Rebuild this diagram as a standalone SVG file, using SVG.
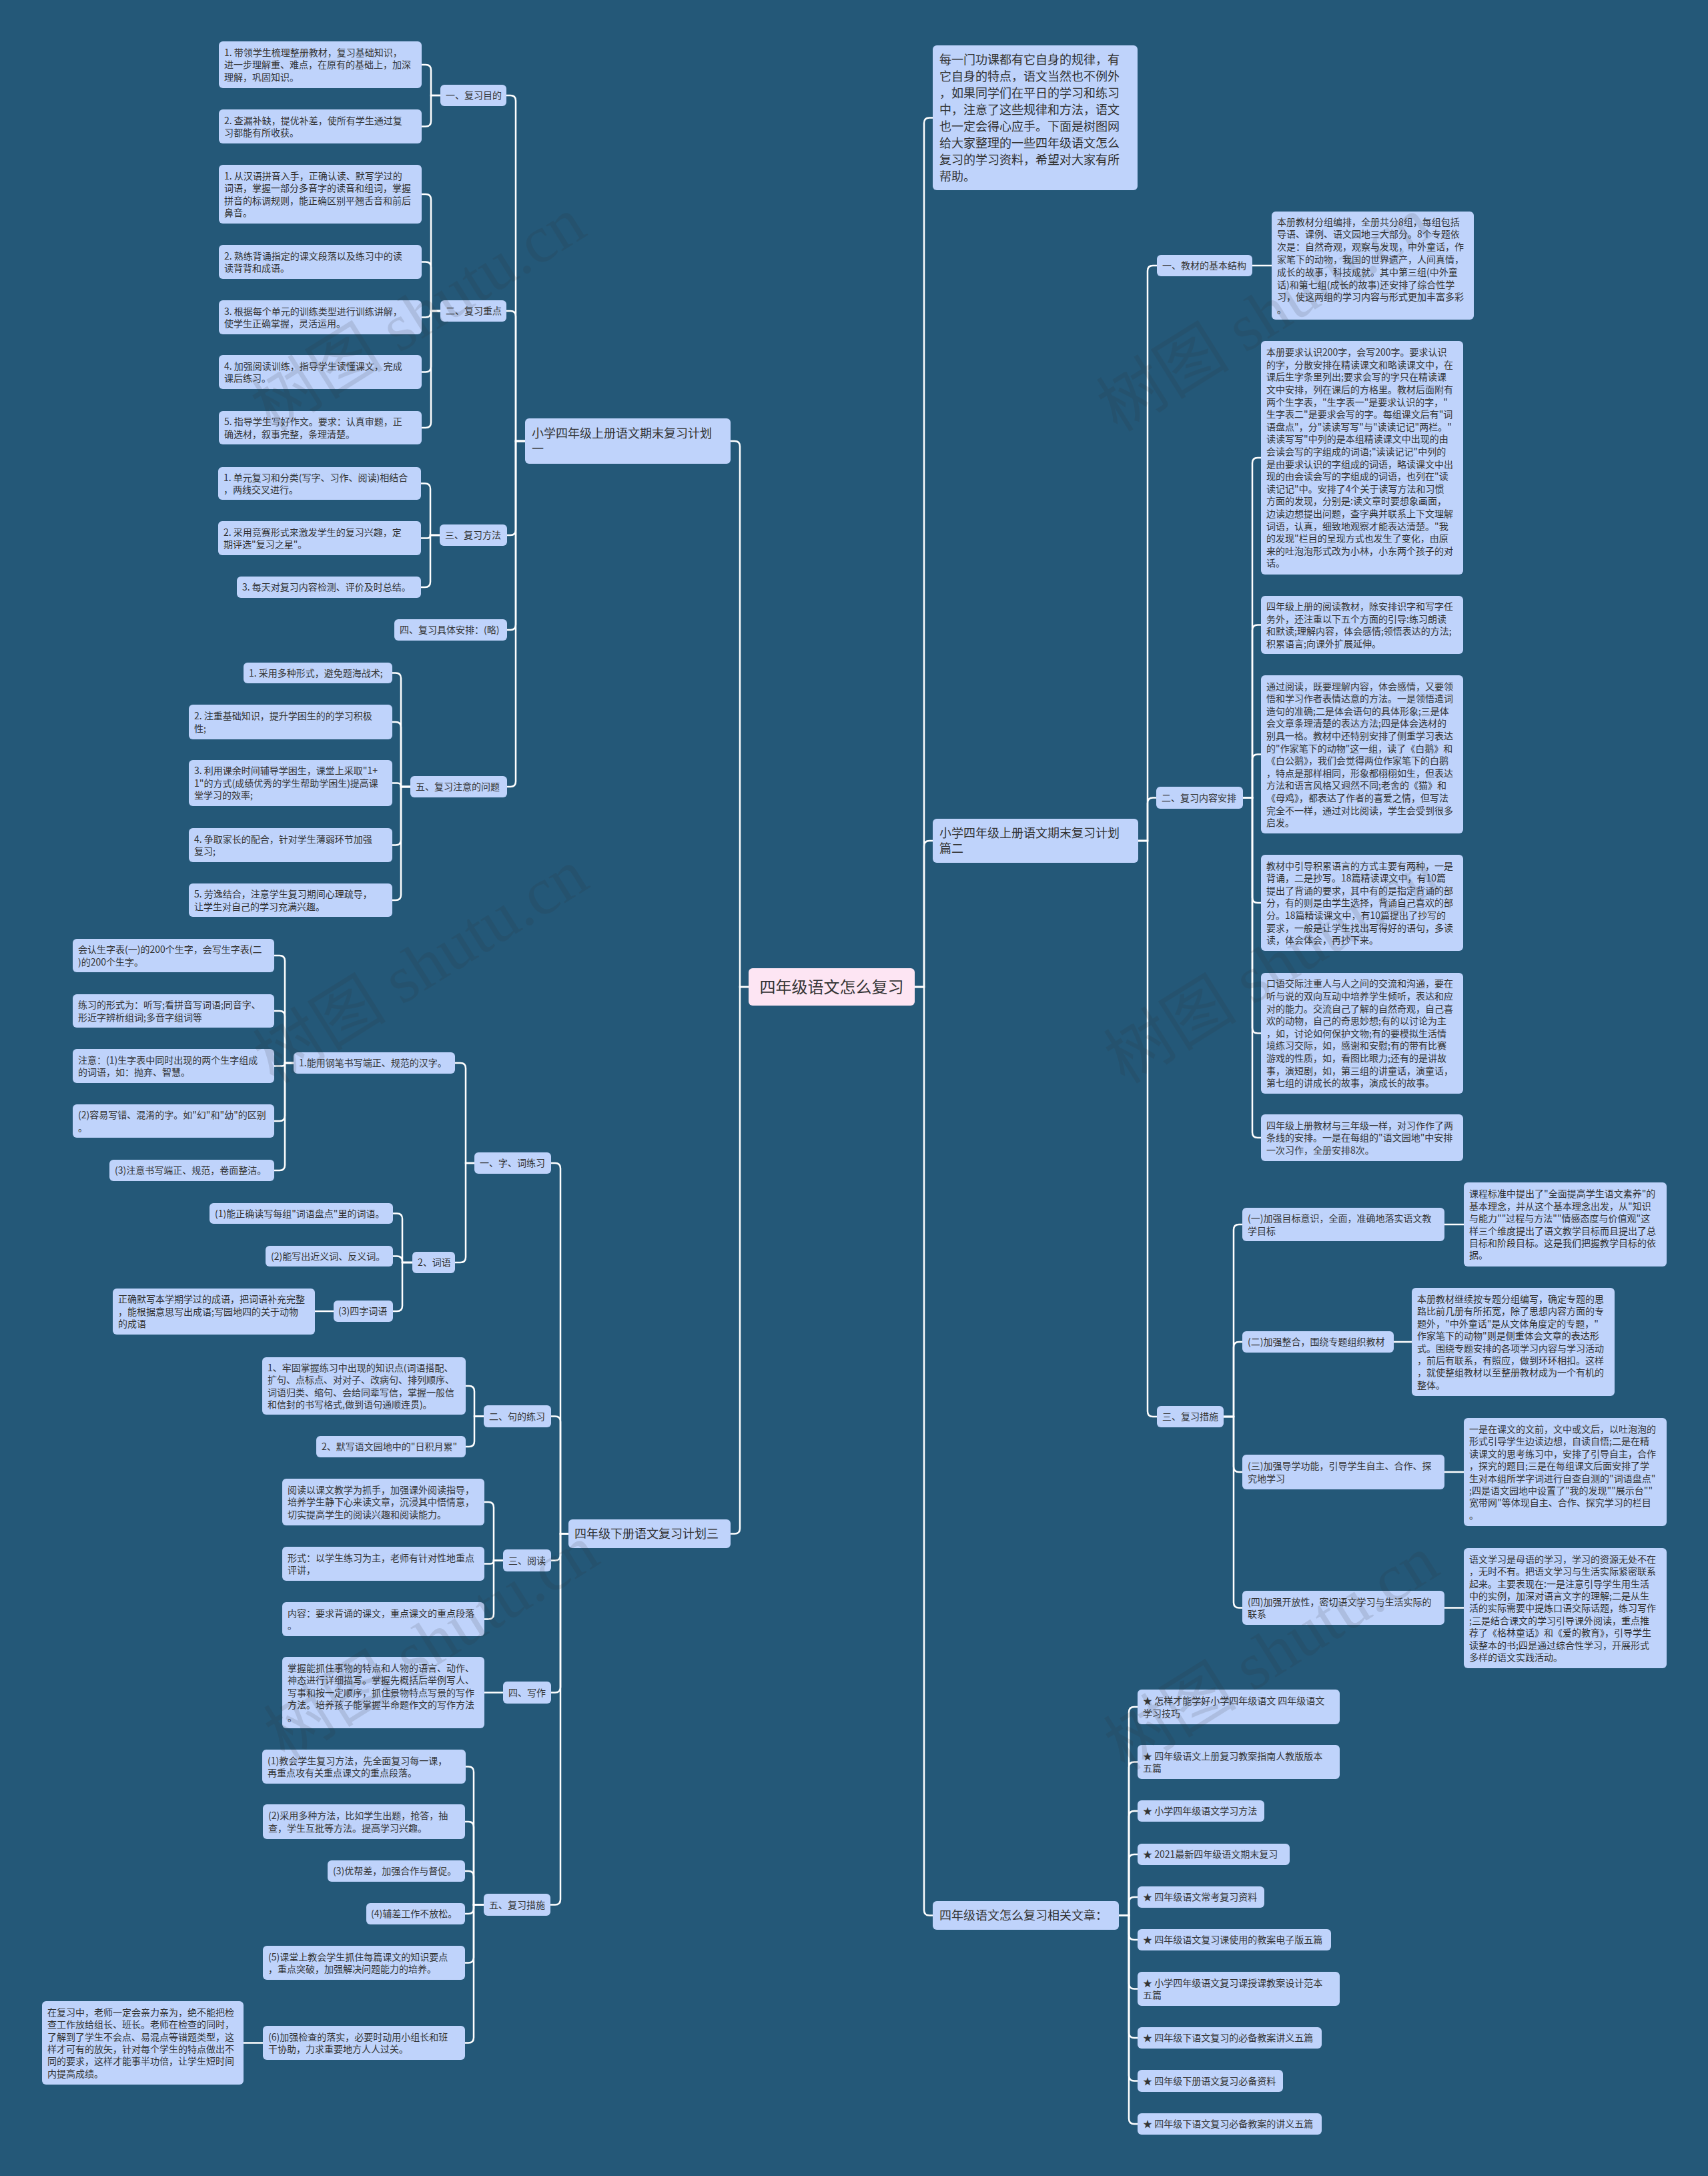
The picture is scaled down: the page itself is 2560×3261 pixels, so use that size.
<svg xmlns="http://www.w3.org/2000/svg" width="2560" height="3261" viewBox="0 0 2560 3261">
<style>
.bg{fill:#245878}
.b{fill:#bfd3fb;rx:6px;ry:6px}
.rt{fill:#fde5f3;rx:6px;ry:6px}
text{font-family:"Noto Sans CJK SC","Noto Sans",sans-serif;fill:#333333}
.t{font-size:14px}
.m{font-size:18px}
.r{font-size:24px;text-anchor:middle}
.c path{fill:none;stroke:#ffffff;stroke-width:2.5;stroke-linecap:round}
.wm{font-family:"Liberation Serif","Noto Sans CJK SC",serif;font-size:100px;fill:#303030;opacity:0.13;text-anchor:middle}
</style>
<rect class="bg" x="0" y="0" width="2560" height="3261"/>

<g class="c" id="connectors">
<path d="M1122 1479 H1109 V669 Q1109 661 1101 661 H1095"/>
<path d="M1122 1479 H1109 V2290.5 Q1109 2298.5 1101 2298.5 H1095"/>
<path d="M1371 1479 H1385 V184.5 Q1385 176.5 1393 176.5 H1398"/>
<path d="M1371 1479 H1385 V1268 Q1385 1260 1393 1260 H1398"/>
<path d="M1371 1479 H1385 V2862.5 Q1385 2870.5 1393 2870.5 H1398"/>
<path d="M787 661 H773 V151 Q773 143 765 143 H759"/>
<path d="M787 661 H773 V474 Q773 466 765 466 H759"/>
<path d="M787 661 H773 V794 Q773 802 765 802 H760"/>
<path d="M787 661 H773 V936 Q773 944 765 944 H760"/>
<path d="M787 661 H773 V1171 Q773 1179 765 1179 H760"/>
<path d="M660 143 H646 V105 Q646 97 638 97 H632"/>
<path d="M660 143 H646 V181.5 Q646 189.5 638 189.5 H632"/>
<path d="M660 466 H646 V299 Q646 291 638 291 H632"/>
<path d="M660 466 H646 V400.5 Q646 392.5 638 392.5 H632"/>
<path d="M660 466 H646 V467.5 Q646 475.5 638 475.5 H632"/>
<path d="M660 466 H646 V549.5 Q646 557.5 638 557.5 H632"/>
<path d="M660 466 H646 V633 Q646 641 638 641 H632"/>
<path d="M659 802 H645 V732.5 Q645 724.5 637 724.5 H631"/>
<path d="M659 802 H645 V802 Q645 806.5 640.5 806.5 H631"/>
<path d="M659 802 H645 V872 Q645 880 637 880 H631"/>
<path d="M615 1179 H601 V1016.5 Q601 1008.5 593 1008.5 H588"/>
<path d="M615 1179 H601 V1090 Q601 1082 593 1082 H588"/>
<path d="M615 1179 H601 V1179 Q601 1173.5 595.5 1173.5 H588"/>
<path d="M615 1179 H601 V1258.5 Q601 1266.5 593 1266.5 H588"/>
<path d="M615 1179 H601 V1341 Q601 1349 593 1349 H588"/>
<path d="M852 2298.5 H840 V1751 Q840 1743 832 1743 H826"/>
<path d="M852 2298.5 H840 V2130.5 Q840 2122.5 832 2122.5 H826"/>
<path d="M852 2298.5 H840 V2330.5 Q840 2338.5 832 2338.5 H826"/>
<path d="M852 2298.5 H840 V2528.5 Q840 2536.5 832 2536.5 H826"/>
<path d="M852 2298.5 H840 V2846.5 Q840 2854.5 832 2854.5 H825"/>
<path d="M711 1743 H698 V1601 Q698 1593 690 1593 H682"/>
<path d="M711 1743 H698 V1884 Q698 1892 690 1892 H682"/>
<path d="M440 1593 H427 V1440 Q427 1432 419 1432 H411"/>
<path d="M440 1593 H427 V1523 Q427 1515 419 1515 H411"/>
<path d="M440 1593 H427 V1593 Q427 1597.5 422.5 1597.5 H411"/>
<path d="M440 1593 H427 V1672 Q427 1680 419 1680 H411"/>
<path d="M440 1593 H427 V1746 Q427 1754 419 1754 H411"/>
<path d="M618 1892 H603 V1826.5 Q603 1818.5 595 1818.5 H589"/>
<path d="M618 1892 H603 V1890.5 Q603 1882.5 595 1882.5 H589"/>
<path d="M618 1892 H603 V1957 Q603 1965 595 1965 H589"/>
<path d="M500 1965 H472"/>
<path d="M725 2122.5 H711 V2085 Q711 2077 703 2077 H698"/>
<path d="M725 2122.5 H711 V2160 Q711 2168 703 2168 H698"/>
<path d="M754 2338.5 H740 V2259 Q740 2251 732 2251 H726"/>
<path d="M754 2338.5 H740 V2338.5 Q740 2343.5 735 2343.5 H726"/>
<path d="M754 2338.5 H740 V2418.5 Q740 2426.5 732 2426.5 H726"/>
<path d="M754 2536.5 H726"/>
<path d="M725 2854.5 H710 V2655.5 Q710 2647.5 702 2647.5 H698"/>
<path d="M725 2854.5 H710 V2738 Q710 2730 702 2730 H697"/>
<path d="M725 2854.5 H710 V2812 Q710 2804 702 2804 H697"/>
<path d="M725 2854.5 H710 V2860 Q710 2868 702 2868 H697"/>
<path d="M725 2854.5 H710 V2933.5 Q710 2941.5 702 2941.5 H697"/>
<path d="M725 2854.5 H710 V3053.5 Q710 3061.5 702 3061.5 H697"/>
<path d="M394 3061.5 H365"/>
<path d="M1706 1260 H1720 V406 Q1720 398 1728 398 H1734"/>
<path d="M1706 1260 H1720 V1203.5 Q1720 1195.5 1728 1195.5 H1733"/>
<path d="M1706 1260 H1720 V2115 Q1720 2123 1728 2123 H1734"/>
<path d="M1877 398 H1906"/>
<path d="M1863 1195.5 H1877 V694 Q1877 686 1885 686 H1890"/>
<path d="M1863 1195.5 H1877 V944.5 Q1877 936.5 1885 936.5 H1890"/>
<path d="M1863 1195.5 H1877 V1138.5 Q1877 1130.5 1885 1130.5 H1890"/>
<path d="M1863 1195.5 H1877 V1345 Q1877 1353 1885 1353 H1890"/>
<path d="M1863 1195.5 H1877 V1540.5 Q1877 1548.5 1885 1548.5 H1890"/>
<path d="M1863 1195.5 H1877 V1697 Q1877 1705 1885 1705 H1890"/>
<path d="M1834 2123 H1849 V1843 Q1849 1835 1857 1835 H1862"/>
<path d="M1834 2123 H1849 V2019 Q1849 2011 1857 2011 H1862"/>
<path d="M1834 2123 H1849 V2198 Q1849 2206 1857 2206 H1862"/>
<path d="M1834 2123 H1849 V2401.5 Q1849 2409.5 1857 2409.5 H1862"/>
<path d="M2165 1835 H2194"/>
<path d="M2089 2011 H2116"/>
<path d="M2165 2206 H2194"/>
<path d="M2165 2409.5 H2194"/>
<path d="M1677 2870.5 H1692 V2566 Q1692 2558 1700 2558 H1705"/>
<path d="M1677 2870.5 H1692 V2648.5 Q1692 2640.5 1700 2640.5 H1705"/>
<path d="M1677 2870.5 H1692 V2722 Q1692 2714 1700 2714 H1705"/>
<path d="M1677 2870.5 H1692 V2787 Q1692 2779 1700 2779 H1705"/>
<path d="M1677 2870.5 H1692 V2851 Q1692 2843 1700 2843 H1705"/>
<path d="M1677 2870.5 H1692 V2899 Q1692 2907 1700 2907 H1705"/>
<path d="M1677 2870.5 H1692 V2972.5 Q1692 2980.5 1700 2980.5 H1705"/>
<path d="M1677 2870.5 H1692 V3046 Q1692 3054 1700 3054 H1705"/>
<path d="M1677 2870.5 H1692 V3110.5 Q1692 3118.5 1700 3118.5 H1705"/>
<path d="M1677 2870.5 H1692 V3175 Q1692 3183 1700 3183 H1705"/>
</g>

<g id="root"><rect class="rt" x="1122" y="1451" width="249" height="56"/><text class="r" x="1246.5" y="1488">四年级语文怎么复习</text></g>

<g id="plan1"><rect class="b" x="787" y="627" width="308" height="68"/><text class="m"><tspan x="797" y="656">小学四年级上册语文期末复习计划</tspan><tspan x="797" y="679">一</tspan></text></g>
<g id="p1-goal"><rect class="b" x="660" y="127" width="99" height="32"/><text class="t" x="668" y="148.3">一、复习目的</text></g>
<g id="p1-goal-1"><rect class="b" x="328" y="62" width="304" height="70"/><text class="t"><tspan x="336" y="83.9">1. 带领学生梳理整册教材，复习基础知识，</tspan><tspan x="336" y="102.3">进一步理解重、难点，在原有的基础上，加深</tspan><tspan x="336" y="120.7">理解，巩固知识。</tspan></text></g>
<g id="p1-goal-2"><rect class="b" x="328" y="164" width="304" height="51"/><text class="t"><tspan x="336" y="185.6">2. 查漏补缺，提优补差，使所有学生通过复</tspan><tspan x="336" y="204">习都能有所收获。</tspan></text></g>
<g id="p1-key"><rect class="b" x="660" y="450" width="99" height="32"/><text class="t" x="668" y="471.3">二、复习重点</text></g>
<g id="p1-key-1"><rect class="b" x="328" y="247" width="304" height="88"/><text class="t"><tspan x="336" y="268.7">1. 从汉语拼音入手，正确认读、默写学过的</tspan><tspan x="336" y="287.1">词语，掌握一部分多音字的读音和组词，掌握</tspan><tspan x="336" y="305.5">拼音的标调规则，能正确区别平翘舌音和前后</tspan><tspan x="336" y="323.9">鼻音。</tspan></text></g>
<g id="p1-key-2"><rect class="b" x="328" y="367" width="304" height="51"/><text class="t"><tspan x="336" y="388.6">2. 熟练背诵指定的课文段落以及练习中的读</tspan><tspan x="336" y="407">读背背和成语。</tspan></text></g>
<g id="p1-key-3"><rect class="b" x="328" y="450" width="304" height="51"/><text class="t"><tspan x="336" y="471.6">3. 根据每个单元的训练类型进行训练讲解，</tspan><tspan x="336" y="490">使学生正确掌握，灵活运用。</tspan></text></g>
<g id="p1-key-4"><rect class="b" x="328" y="532" width="304" height="51"/><text class="t"><tspan x="336" y="553.6">4. 加强阅读训练，指导学生读懂课文，完成</tspan><tspan x="336" y="572">课后练习。</tspan></text></g>
<g id="p1-key-5"><rect class="b" x="328" y="616" width="304" height="50"/><text class="t"><tspan x="336" y="637.1">5. 指导学生写好作文。要求：认真审题，正</tspan><tspan x="336" y="655.5">确选材，叙事完整，条理清楚。</tspan></text></g>
<g id="p1-method"><rect class="b" x="659" y="786" width="101" height="32"/><text class="t" x="667" y="807.3">三、复习方法</text></g>
<g id="p1-method-1"><rect class="b" x="327" y="700" width="304" height="49"/><text class="t"><tspan x="335" y="720.6">1. 单元复习和分类(写字、习作、阅读)相结合</tspan><tspan x="335" y="739">，两线交叉进行。</tspan></text></g>
<g id="p1-method-2"><rect class="b" x="327" y="781" width="304" height="51"/><text class="t"><tspan x="335" y="802.6">2. 采用竞赛形式来激发学生的复习兴趣，定</tspan><tspan x="335" y="821">期评选"复习之星"。</tspan></text></g>
<g id="p1-method-3"><rect class="b" x="355" y="864" width="276" height="32"/><text class="t" x="363" y="885.3">3. 每天对复习内容检测、评价及时总结。</text></g>
<g id="p1-plan"><rect class="b" x="591" y="928" width="169" height="32"/><text class="t" x="599" y="949.3">四、复习具体安排：(略)</text></g>
<g id="p1-note"><rect class="b" x="615" y="1163" width="145" height="32"/><text class="t" x="623" y="1184.3">五、复习注意的问题</text></g>
<g id="p1-note-1"><rect class="b" x="365" y="993" width="223" height="31"/><text class="t" x="373" y="1013.8">1. 采用多种形式，避免题海战术;</text></g>
<g id="p1-note-2"><rect class="b" x="283" y="1056" width="305" height="52"/><text class="t"><tspan x="291" y="1078.1">2. 注重基础知识，提升学困生的的学习积极</tspan><tspan x="291" y="1096.5">性;</tspan></text></g>
<g id="p1-note-3"><rect class="b" x="283" y="1139" width="305" height="69"/><text class="t"><tspan x="291" y="1160.4">3. 利用课余时间辅导学困生，课堂上采取"1+</tspan><tspan x="291" y="1178.8">1"的方式(成绩优秀的学生帮助学困生)提高课</tspan><tspan x="291" y="1197.2">堂学习的效率;</tspan></text></g>
<g id="p1-note-4"><rect class="b" x="283" y="1241" width="305" height="51"/><text class="t"><tspan x="291" y="1262.6">4. 争取家长的配合，针对学生薄弱环节加强</tspan><tspan x="291" y="1281">复习;</tspan></text></g>
<g id="p1-note-5"><rect class="b" x="283" y="1324" width="305" height="50"/><text class="t"><tspan x="291" y="1345.1">5. 劳逸结合，注意学生复习期间心理疏导，</tspan><tspan x="291" y="1363.5">让学生对自己的学习充满兴趣。</tspan></text></g>

<g id="plan3"><rect class="b" x="852" y="2277" width="243" height="43"/><text class="m" x="861" y="2305">四年级下册语文复习计划三</text></g>
<g id="p3-word"><rect class="b" x="711" y="1727" width="115" height="32"/><text class="t" x="719" y="1748.3">一、字、词练习</text></g>
<g id="p3-char"><rect class="b" x="440" y="1577" width="242" height="32"/><text class="t" x="448" y="1598.3">1.能用钢笔书写端正、规范的汉字。</text></g>
<g id="p3-char-1"><rect class="b" x="109" y="1407" width="302" height="50"/><text class="t"><tspan x="117" y="1428.1">会认生字表(一)的200个生字，会写生字表(二</tspan><tspan x="117" y="1446.5">)的200个生字。</tspan></text></g>
<g id="p3-char-2"><rect class="b" x="109" y="1490" width="302" height="50"/><text class="t"><tspan x="117" y="1511.1">练习的形式为：听写;看拼音写词语;同音字、</tspan><tspan x="117" y="1529.5">形近字辨析组词;多音字组词等</tspan></text></g>
<g id="p3-char-3"><rect class="b" x="109" y="1572" width="302" height="51"/><text class="t"><tspan x="117" y="1593.6">注意：(1)生字表中同时出现的两个生字组成</tspan><tspan x="117" y="1612">的词语，如：抛弃、智慧。</tspan></text></g>
<g id="p3-char-4"><rect class="b" x="109" y="1655" width="302" height="50"/><text class="t"><tspan x="117" y="1676.1">(2)容易写错、混淆的字。如"幻"和"幼"的区别</tspan><tspan x="117" y="1694.5">。</tspan></text></g>
<g id="p3-char-5"><rect class="b" x="164" y="1738" width="247" height="32"/><text class="t" x="172" y="1759.3">(3)注意书写端正、规范，卷面整洁。</text></g>
<g id="p3-ci"><rect class="b" x="618" y="1876" width="64" height="32"/><text class="t" x="626" y="1897.3">2、词语</text></g>
<g id="p3-ci-1"><rect class="b" x="314" y="1803" width="275" height="31"/><text class="t" x="322" y="1823.8">(1)能正确读写每组"词语盘点"里的词语。</text></g>
<g id="p3-ci-2"><rect class="b" x="398" y="1867" width="191" height="31"/><text class="t" x="406" y="1887.8">(2)能写出近义词、反义词。</text></g>
<g id="p3-ci-3"><rect class="b" x="500" y="1949" width="89" height="32"/><text class="t" x="507" y="1970.3">(3)四字词语</text></g>
<g id="p3-ci-3a"><rect class="b" x="169" y="1931" width="303" height="69"/><text class="t"><tspan x="177" y="1952.4">正确默写本学期学过的成语，把词语补充完整</tspan><tspan x="177" y="1970.8">，能根据意思写出成语;写园地四的关于动物</tspan><tspan x="177" y="1989.2">的成语</tspan></text></g>
<g id="p3-sent"><rect class="b" x="725" y="2106" width="101" height="33"/><text class="t" x="733" y="2127.8">二、句的练习</text></g>
<g id="p3-sent-1"><rect class="b" x="393" y="2034" width="305" height="86"/><text class="t"><tspan x="401" y="2054.7">1、牢固掌握练习中出现的知识点(词语搭配、</tspan><tspan x="401" y="2073.1">扩句、点标点、对对子、改病句、排列顺序、</tspan><tspan x="401" y="2091.5">词语归类、缩句、会给同辈写信，掌握一般信</tspan><tspan x="401" y="2109.9">和信封的书写格式,做到语句通顺连贯)。</tspan></text></g>
<g id="p3-sent-2"><rect class="b" x="474" y="2152" width="224" height="32"/><text class="t" x="482" y="2173.3">2、默写语文园地中的"日积月累"</text></g>
<g id="p3-read"><rect class="b" x="754" y="2322" width="72" height="33"/><text class="t" x="762" y="2343.8">三、阅读</text></g>
<g id="p3-read-1"><rect class="b" x="423" y="2216" width="303" height="70"/><text class="t"><tspan x="431" y="2237.9">阅读以课文教学为抓手，加强课外阅读指导，</tspan><tspan x="431" y="2256.3">培养学生静下心来读文章，沉浸其中悟情意，</tspan><tspan x="431" y="2274.7">切实提高学生的阅读兴趣和阅读能力。</tspan></text></g>
<g id="p3-read-2"><rect class="b" x="423" y="2318" width="303" height="51"/><text class="t"><tspan x="431" y="2339.6">形式：以学生练习为主，老师有针对性地重点</tspan><tspan x="431" y="2358">评讲，</tspan></text></g>
<g id="p3-read-3"><rect class="b" x="423" y="2401" width="303" height="51"/><text class="t"><tspan x="431" y="2422.6">内容：要求背诵的课文，重点课文的重点段落</tspan><tspan x="431" y="2441">。</tspan></text></g>
<g id="p3-write"><rect class="b" x="754" y="2520" width="72" height="33"/><text class="t" x="762" y="2541.8">四、写作</text></g>
<g id="p3-write-1"><rect class="b" x="423" y="2483" width="303" height="107"/><text class="t"><tspan x="431" y="2505">掌握能抓住事物的特点和人物的语言、动作、</tspan><tspan x="431" y="2523.4">神态进行详细描写。掌握先概括后举例写人、</tspan><tspan x="431" y="2541.8">写事和按一定顺序，抓住景物特点写景的写作</tspan><tspan x="431" y="2560.2">方法。培养孩子能掌握半命题作文的写作方法</tspan><tspan x="431" y="2578.6">。</tspan></text></g>
<g id="p3-measure"><rect class="b" x="725" y="2838" width="100" height="33"/><text class="t" x="733" y="2859.8">五、复习措施</text></g>
<g id="p3-measure-1"><rect class="b" x="393" y="2622" width="305" height="51"/><text class="t"><tspan x="401" y="2643.6">(1)教会学生复习方法，先全面复习每一课，</tspan><tspan x="401" y="2662">再重点攻有关重点课文的重点段落。</tspan></text></g>
<g id="p3-measure-2"><rect class="b" x="394" y="2704" width="303" height="52"/><text class="t"><tspan x="402" y="2726.1">(2)采用多种方法，比如学生出题，抢答，抽</tspan><tspan x="402" y="2744.5">查，学生互批等方法。提高学习兴趣。</tspan></text></g>
<g id="p3-measure-3"><rect class="b" x="491" y="2788" width="206" height="32"/><text class="t" x="499" y="2809.3">(3)优帮差，加强合作与督促。</text></g>
<g id="p3-measure-4"><rect class="b" x="549" y="2852" width="148" height="32"/><text class="t" x="556" y="2873.3">(4)辅差工作不放松。</text></g>
<g id="p3-measure-5"><rect class="b" x="394" y="2916" width="303" height="51"/><text class="t"><tspan x="402" y="2937.6">(5)课堂上教会学生抓住每篇课文的知识要点</tspan><tspan x="402" y="2956">，重点突破，加强解决问题能力的培养。</tspan></text></g>
<g id="p3-measure-6"><rect class="b" x="394" y="3036" width="303" height="51"/><text class="t"><tspan x="402" y="3057.6">(6)加强检查的落实，必要时动用小组长和班</tspan><tspan x="402" y="3076">干协助，力求重要地方人人过关。</tspan></text></g>
<g id="p3-measure-6a"><rect class="b" x="63" y="2999" width="302" height="125"/><text class="t"><tspan x="71" y="3020.8">在复习中，老师一定会亲力亲为，绝不能把检</tspan><tspan x="71" y="3039.2">查工作放给组长、班长。老师在检查的同时，</tspan><tspan x="71" y="3057.6">了解到了学生不会点、易混点等错题类型，这</tspan><tspan x="71" y="3076">样才可有的放矢，针对每个学生的特点做出不</tspan><tspan x="71" y="3094.4">同的要求，这样才能事半功倍，让学生短时间</tspan><tspan x="71" y="3112.8">内提高成绩。</tspan></text></g>

<g id="intro"><rect class="b" x="1398" y="68" width="307" height="217"/><text class="m"><tspan x="1408" y="96">每一门功课都有它自身的规律，有</tspan><tspan x="1408" y="121">它自身的特点，语文当然也不例外</tspan><tspan x="1408" y="146">，如果同学们在平日的学习和练习</tspan><tspan x="1408" y="171">中，注意了这些规律和方法，语文</tspan><tspan x="1408" y="196">也一定会得心应手。下面是树图网</tspan><tspan x="1408" y="221">给大家整理的一些四年级语文怎么</tspan><tspan x="1408" y="246">复习的学习资料，希望对大家有所</tspan><tspan x="1408" y="271">帮助。</tspan></text></g>

<g id="plan2"><rect class="b" x="1398" y="1227" width="308" height="66"/><text class="m"><tspan x="1408" y="1255">小学四年级上册语文期末复习计划</tspan><tspan x="1408" y="1278">篇二</tspan></text></g>
<g id="p2-struct"><rect class="b" x="1734" y="382" width="143" height="32"/><text class="t" x="1742" y="403.3">一、教材的基本结构</text></g>
<g id="p2-struct-1"><rect class="b" x="1906" y="317" width="303" height="162"/><text class="t"><tspan x="1914" y="337.5">本册教材分组编排，全册共分8组，每组包括</tspan><tspan x="1914" y="356.3">导语、课例、语文园地三大部分。8个专题依</tspan><tspan x="1914" y="375.1">次是：自然奇观，观察与发现，中外童话，作</tspan><tspan x="1914" y="393.9">家笔下的动物，我国的世界遗产，人间真情，</tspan><tspan x="1914" y="412.7">成长的故事，科技成就。其中第三组(中外童</tspan><tspan x="1914" y="431.5">话)和第七组(成长的故事)还安排了综合性学</tspan><tspan x="1914" y="450.3">习，使这两组的学习内容与形式更加丰富多彩</tspan><tspan x="1914" y="469.1">。</tspan></text></g>
<g id="p2-content"><rect class="b" x="1733" y="1179" width="130" height="33"/><text class="t" x="1741" y="1200.8">二、复习内容安排</text></g>
<g id="p2-content-1"><rect class="b" x="1890" y="511" width="303" height="350"/><text class="t"><tspan x="1898" y="533.2">本册要求认识200字，会写200字。要求认识</tspan><tspan x="1898" y="551.8">的字，分散安排在精读课文和略读课文中，在</tspan><tspan x="1898" y="570.4">课后生字条里列出;要求会写的字只在精读课</tspan><tspan x="1898" y="589">文中安排，列在课后的方格里。教材后面附有</tspan><tspan x="1898" y="607.6">两个生字表，"生字表一"是要求认识的字，"</tspan><tspan x="1898" y="626.2">生字表二"是要求会写的字。每组课文后有"词</tspan><tspan x="1898" y="644.8">语盘点"，分"读读写写"与"读读记记"两栏。"</tspan><tspan x="1898" y="663.4">读读写写"中列的是本组精读课文中出现的由</tspan><tspan x="1898" y="682">会读会写的字组成的词语;"读读记记"中列的</tspan><tspan x="1898" y="700.6">是由要求认识的字组成的词语，略读课文中出</tspan><tspan x="1898" y="719.2">现的由会读会写的字组成的词语，也列在"读</tspan><tspan x="1898" y="737.8">读记记"中。安排了4个关于读写方法和习惯</tspan><tspan x="1898" y="756.4">方面的发现，分别是:读文章时要想象画面，</tspan><tspan x="1898" y="775">边读边想提出问题，查字典并联系上下文理解</tspan><tspan x="1898" y="793.6">词语，认真，细致地观察才能表达清楚。"我</tspan><tspan x="1898" y="812.2">的发现"栏目的呈现方式也发生了变化，由原</tspan><tspan x="1898" y="830.8">来的吐泡泡形式改为小林，小东两个孩子的对</tspan><tspan x="1898" y="849.4">话。</tspan></text></g>
<g id="p2-content-2"><rect class="b" x="1890" y="893" width="303" height="87"/><text class="t"><tspan x="1898" y="913.9">四年级上册的阅读教材，除安排识字和写字任</tspan><tspan x="1898" y="932.5">务外，还注重以下五个方面的引导:练习朗读</tspan><tspan x="1898" y="951.1">和默读;理解内容，体会感情;领悟表达的方法;</tspan><tspan x="1898" y="969.7">积累语言;向课外扩展延伸。</tspan></text></g>
<g id="p2-content-3"><rect class="b" x="1890" y="1012" width="303" height="237"/><text class="t"><tspan x="1898" y="1033.5">通过阅读，既要理解内容，体会感情，又要领</tspan><tspan x="1898" y="1052.1">悟和学习作者表情达意的方法。一是领悟遣词</tspan><tspan x="1898" y="1070.7">造句的准确;二是体会语句的具体形象;三是体</tspan><tspan x="1898" y="1089.3">会文章条理清楚的表达方法;四是体会选材的</tspan><tspan x="1898" y="1107.9">别具一格。教材中还特别安排了侧重学习表达</tspan><tspan x="1898" y="1126.5">的"作家笔下的动物"这一组，读了《白鹅》和</tspan><tspan x="1898" y="1145.1">《白公鹅》，我们会觉得两位作家笔下的白鹅</tspan><tspan x="1898" y="1163.7">，特点是那样相同，形象都栩栩如生，但表达</tspan><tspan x="1898" y="1182.3">方法和语言风格又迥然不同;老舍的《猫》和</tspan><tspan x="1898" y="1200.9">《母鸡》，都表达了作者的喜爱之情，但写法</tspan><tspan x="1898" y="1219.5">完全不一样，通过对比阅读，学生会受到很多</tspan><tspan x="1898" y="1238.1">启发。</tspan></text></g>
<g id="p2-content-4"><rect class="b" x="1890" y="1281" width="303" height="144"/><text class="t"><tspan x="1898" y="1302.5">教材中引导积累语言的方式主要有两种，一是</tspan><tspan x="1898" y="1321.1">背诵，二是抄写。18篇精读课文中，有10篇</tspan><tspan x="1898" y="1339.7">提出了背诵的要求，其中有的是指定背诵的部</tspan><tspan x="1898" y="1358.3">分，有的则是由学生选择，背诵自己喜欢的部</tspan><tspan x="1898" y="1376.9">分。18篇精读课文中，有10篇提出了抄写的</tspan><tspan x="1898" y="1395.5">要求，一般是让学生找出写得好的语句，多读</tspan><tspan x="1898" y="1414.1">读，体会体会，再抄下来。</tspan></text></g>
<g id="p2-content-5"><rect class="b" x="1890" y="1458" width="303" height="181"/><text class="t"><tspan x="1898" y="1479.4">口语交际注重人与人之间的交流和沟通，要在</tspan><tspan x="1898" y="1498">听与说的双向互动中培养学生倾听，表达和应</tspan><tspan x="1898" y="1516.6">对的能力。交流自己了解的自然奇观，自己喜</tspan><tspan x="1898" y="1535.2">欢的动物，自己的奇思妙想;有的以讨论为主</tspan><tspan x="1898" y="1553.8">，如，讨论如何保护文物;有的要模拟生活情</tspan><tspan x="1898" y="1572.4">境练习交际，如，感谢和安慰;有的带有比赛</tspan><tspan x="1898" y="1591">游戏的性质，如，看图比眼力;还有的是讲故</tspan><tspan x="1898" y="1609.6">事，演短剧，如，第三组的讲童话，演童话，</tspan><tspan x="1898" y="1628.2">第七组的讲成长的故事，演成长的故事。</tspan></text></g>
<g id="p2-content-6"><rect class="b" x="1890" y="1670" width="303" height="70"/><text class="t"><tspan x="1898" y="1691.7">四年级上册教材与三年级一样，对习作作了两</tspan><tspan x="1898" y="1710.3">条线的安排。一是在每组的"语文园地"中安排</tspan><tspan x="1898" y="1728.9">一次习作，全册安排8次。</tspan></text></g>
<g id="p2-measure"><rect class="b" x="1734" y="2107" width="100" height="32"/><text class="t" x="1742" y="2128.3">三、复习措施</text></g>
<g id="p2-measure-1"><rect class="b" x="1862" y="1810" width="303" height="50"/><text class="t"><tspan x="1870" y="1831.1">(一)加强目标意识，全面，准确地落实语文教</tspan><tspan x="1870" y="1849.5">学目标</tspan></text></g>
<g id="p2-measure-1a"><rect class="b" x="2194" y="1772" width="304" height="126"/><text class="t"><tspan x="2202" y="1794.3">课程标准中提出了"全面提高学生语文素养"的</tspan><tspan x="2202" y="1812.7">基本理念，并从这个基本理念出发，从"知识</tspan><tspan x="2202" y="1831.1">与能力""过程与方法""情感态度与价值观"这</tspan><tspan x="2202" y="1849.5">样三个维度提出了语文教学目标而且提出了总</tspan><tspan x="2202" y="1867.9">目标和阶段目标。这是我们把握教学目标的依</tspan><tspan x="2202" y="1886.3">据。</tspan></text></g>
<g id="p2-measure-2"><rect class="b" x="1862" y="1995" width="227" height="32"/><text class="t" x="1870" y="2016.3">(二)加强整合，围绕专题组织教材</text></g>
<g id="p2-measure-2a"><rect class="b" x="2116" y="1930" width="304" height="162"/><text class="t"><tspan x="2124" y="1951.9">本册教材继续按专题分组编写，确定专题的思</tspan><tspan x="2124" y="1970.3">路比前几册有所拓宽，除了思想内容方面的专</tspan><tspan x="2124" y="1988.7">题外，"中外童话"是从文体角度定的专题，"</tspan><tspan x="2124" y="2007.1">作家笔下的动物"则是侧重体会文章的表达形</tspan><tspan x="2124" y="2025.5">式。围绕专题安排的各项学习内容与学习活动</tspan><tspan x="2124" y="2043.9">，前后有联系，有照应，做到环环相扣。这样</tspan><tspan x="2124" y="2062.3">，就使整组教材以至整册教材成为一个有机的</tspan><tspan x="2124" y="2080.7">整体。</tspan></text></g>
<g id="p2-measure-3"><rect class="b" x="1862" y="2180" width="303" height="52"/><text class="t"><tspan x="1870" y="2202.1">(三)加强导学功能，引导学生自主、合作、探</tspan><tspan x="1870" y="2220.5">究地学习</tspan></text></g>
<g id="p2-measure-3a"><rect class="b" x="2194" y="2125" width="304" height="162"/><text class="t"><tspan x="2202" y="2146.9">一是在课文的文前，文中或文后，以吐泡泡的</tspan><tspan x="2202" y="2165.3">形式引导学生边读边想，自读自悟;二是在精</tspan><tspan x="2202" y="2183.7">读课文的思考练习中，安排了引导自主，合作</tspan><tspan x="2202" y="2202.1">，探究的题目;三是在每组课文后面安排了学</tspan><tspan x="2202" y="2220.5">生对本组所学字词进行自查自测的"词语盘点"</tspan><tspan x="2202" y="2238.9">;四是语文园地中设置了"我的发现""展示台""</tspan><tspan x="2202" y="2257.3">宽带网"等体现自主、合作、探究学习的栏目</tspan><tspan x="2202" y="2275.7">。</tspan></text></g>
<g id="p2-measure-4"><rect class="b" x="1862" y="2384" width="303" height="51"/><text class="t"><tspan x="1870" y="2405.6">(四)加强开放性，密切语文学习与生活实际的</tspan><tspan x="1870" y="2424">联系</tspan></text></g>
<g id="p2-measure-4a"><rect class="b" x="2194" y="2320" width="304" height="180"/><text class="t"><tspan x="2202" y="2341.7">语文学习是母语的学习，学习的资源无处不在</tspan><tspan x="2202" y="2360.1">，无时不有。把语文学习与生活实际紧密联系</tspan><tspan x="2202" y="2378.5">起来。主要表现在:一是注意引导学生用生活</tspan><tspan x="2202" y="2396.9">中的实例，加深对语言文字的理解;二是从生</tspan><tspan x="2202" y="2415.3">活的实际需要中提炼口语交际话题，练习写作</tspan><tspan x="2202" y="2433.7">;三是结合课文的学习引导课外阅读，重点推</tspan><tspan x="2202" y="2452.1">荐了《格林童话》和《爱的教育》，引导学生</tspan><tspan x="2202" y="2470.5">读整本的书;四是通过综合性学习，开展形式</tspan><tspan x="2202" y="2488.9">多样的语文实践活动。</tspan></text></g>

<g id="related"><rect class="b" x="1398" y="2849" width="279" height="43"/><text class="m" x="1408" y="2877">四年级语文怎么复习相关文章：</text></g>
<g id="rel-1"><rect class="b" x="1705" y="2532" width="303" height="52"/><text class="t"><tspan x="1713" y="2554.1">★ 怎样才能学好小学四年级语文 四年级语文</tspan><tspan x="1713" y="2572.5">学习技巧</tspan></text></g>
<g id="rel-2"><rect class="b" x="1705" y="2615" width="303" height="51"/><text class="t"><tspan x="1713" y="2636.6">★ 四年级语文上册复习教案指南人教版版本</tspan><tspan x="1713" y="2655">五篇</tspan></text></g>
<g id="rel-3"><rect class="b" x="1705" y="2698" width="190" height="32"/><text class="t" x="1713" y="2719.3">★ 小学四年级语文学习方法</text></g>
<g id="rel-4"><rect class="b" x="1705" y="2763" width="228" height="32"/><text class="t" x="1713" y="2784.3">★ 2021最新四年级语文期末复习</text></g>
<g id="rel-5"><rect class="b" x="1705" y="2827" width="190" height="32"/><text class="t" x="1713" y="2848.3">★ 四年级语文常考复习资料</text></g>
<g id="rel-6"><rect class="b" x="1705" y="2891" width="290" height="32"/><text class="t" x="1713" y="2912.3">★ 四年级语文复习课使用的教案电子版五篇</text></g>
<g id="rel-7"><rect class="b" x="1705" y="2955" width="303" height="51"/><text class="t"><tspan x="1713" y="2976.6">★ 小学四年级语文复习课授课教案设计范本</tspan><tspan x="1713" y="2995">五篇</tspan></text></g>
<g id="rel-8"><rect class="b" x="1705" y="3038" width="276" height="32"/><text class="t" x="1713" y="3059.3">★ 四年级下语文复习的必备教案讲义五篇</text></g>
<g id="rel-9"><rect class="b" x="1705" y="3102" width="218" height="33"/><text class="t" x="1713" y="3123.8">★ 四年级下册语文复习必备资料</text></g>
<g id="rel-10"><rect class="b" x="1705" y="3167" width="276" height="32"/><text class="t" x="1713" y="3188.3">★ 四年级下语文复习必备教案的讲义五篇</text></g>

<g id="watermarks">
<text class="wm" transform="translate(645 500) rotate(-32)">树图 shutu.cn</text>
<text class="wm" transform="translate(649 1477) rotate(-32)">树图 shutu.cn</text>
<text class="wm" transform="translate(665 2490) rotate(-32)">树图 shutu.cn</text>
<text class="wm" transform="translate(1913 500) rotate(-32)">树图 shutu.cn</text>
<text class="wm" transform="translate(1924 1477) rotate(-32)">树图 shutu.cn</text>
<text class="wm" transform="translate(1924 2506) rotate(-32)">树图 shutu.cn</text>
</g>
</svg>
